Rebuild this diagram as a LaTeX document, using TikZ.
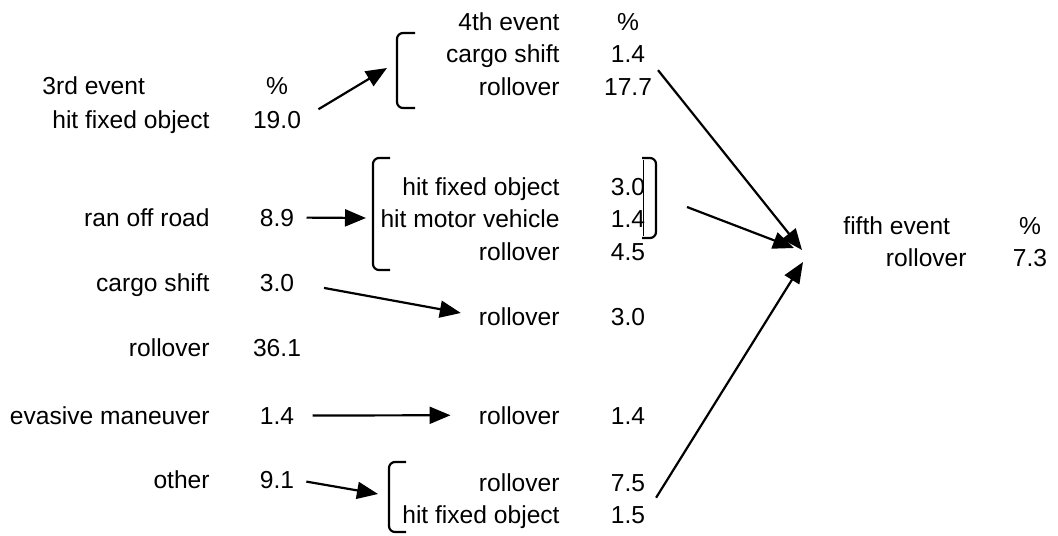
\documentclass[tikz,border=0pt]{standalone}
\usepackage{fontspec}
\setmainfont{Liberation Sans}
\usetikzlibrary{arrows.meta}

\begin{document}
\begin{tikzpicture}[
    x=0.5pt, y=-0.5pt,
    font=\fontsize{12.3}{14}\selectfont,
    lbl/.style={anchor=base east, inner sep=0pt},
    lblw/.style={anchor=base west, inner sep=0pt},
    num/.style={anchor=base, inner sep=0pt},
    arrow/.style={-{Triangle[length=10.5pt, width=8.5pt]}, line width=1.1pt},
    bracket/.style={line width=1.1pt, rounded corners=3pt}
]
\useasboundingbox[fill=white] (0,0) rectangle (1058,535);

% ==================== LEFT: 3RD EVENT ====================
\node[lblw] (head3) at (42,95) {3rd event};
\node[num] (pct3) at (277,95) {\%};
\node[lbl] (hfo3) at (210,128) {hit fixed object};
\node[num] (hfo3n) at (277,128) {19.0};
\node[lbl] (ror3) at (210,226) {ran off road};
\node[num] (ror3n) at (277,226) {8.9};
\node[lbl] (cs3) at (210,291) {cargo shift};
\node[num] (cs3n) at (277,291) {3.0};
\node[lbl] (ro3) at (210,356) {rollover};
\node[num] (ro3n) at (277,356) {36.1};
\node[lbl] (em3) at (210,424) {evasive maneuver};
\node[num] (em3n) at (277,424) {1.4};
\node[lbl] (oth3) at (210,488) {other};
\node[num] (oth3n) at (277,488) {9.1};

% ==================== CENTER: 4TH EVENT ====================
\node[lbl] (head4) at (560,31) {4th event};
\node[num] (pct4) at (628,31) {\%};
\node[lbl] (cs4) at (560,63) {cargo shift};
\node[num] (cs4n) at (628,63) {1.4};
\node[lbl] (ro4) at (560,96) {rollover};
\node[num] (ro4n) at (628,96) {17.7};
\node[lbl] (hfo4) at (560,195) {hit fixed object};
\node[num] (hfo4n) at (628,195) {3.0};
\node[lbl] (hmv4) at (560,227) {hit motor vehicle};
\node[num] (hmv4n) at (628,227) {1.4};
\node[lbl] (rob4) at (560,260) {rollover};
\node[num] (rob4n) at (628,260) {4.5};
\node[lbl] (roc4) at (560,325) {rollover};
\node[num] (roc4n) at (628,325) {3.0};
\node[lbl] (roe4) at (560,424) {rollover};
\node[num] (roe4n) at (628,424) {1.4};
\node[lbl] (rof4) at (560,491) {rollover};
\node[num] (rof4n) at (628,491) {7.5};
\node[lbl] (hfof4) at (560,523) {hit fixed object};
\node[num] (hfof4n) at (628,523) {1.5};

% ==================== RIGHT: FIFTH EVENT ====================
\node[lblw] (head5) at (843,234) {fifth event};
\node[num] (pct5) at (1030,234) {\%};
\node[lbl] (ro5) at (967,266) {rollover};
\node[num] (ro5n) at (1030,266) {7.3};

% ==================== BRACKETS ====================
\draw[bracket] (415,33) -- (397,33) -- (397,108) -- (415,108);
\draw[bracket] (390,158) -- (373,158) -- (373,270) -- (390,270);
\draw[bracket] (642,158) -- (656,158) -- (656,238) -- (642,238);
\draw[line width=0.3pt] (643,160) -- (643,236);
\draw[bracket] (406,462) -- (389,462) -- (389,532) -- (406,532);

% ==================== ARROWS ====================
\coordinate (tipA) at (387,68);
\coordinate (tipB) at (366,218);
\coordinate (tipD) at (378,494);
\coordinate (fromB) at (687,207);
\coordinate (tip5a) at (802,250);
\coordinate (tip5b) at (794,248);
\coordinate (tip5c) at (803,262);

\draw[arrow, shorten <=10pt] (hfo3n.east) -- (tipA);
\draw[arrow, shorten <=6pt] (ror3n.east) -- (tipB);
\draw[arrow, shorten <=15pt, shorten >=9pt] (cs3n.east) -- (roc4.west);
\draw[arrow, shorten <=9pt, shorten >=14pt] (em3n.east) -- (roe4.west);
\draw[arrow, shorten <=6pt] (oth3n.east) -- (tipD);

\draw[arrow, shorten <=10pt] (cs4n.east) -- (tip5a);
\draw[arrow] (fromB) -- (tip5b);
\draw[arrow, shorten <=10pt] (hfof4n.east) -- (tip5c);

\end{tikzpicture}
\end{document}
